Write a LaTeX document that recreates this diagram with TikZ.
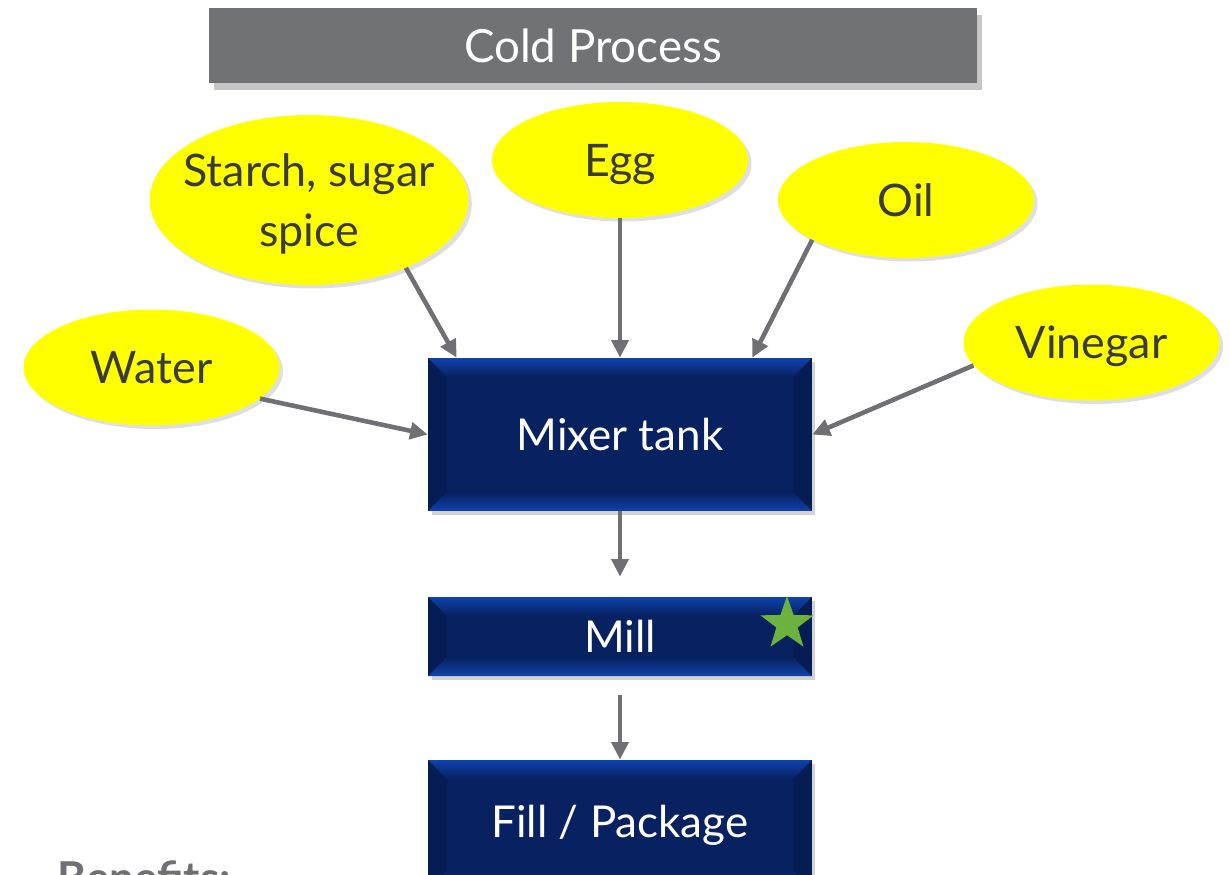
\documentclass[tikz,border=0pt]{standalone}
\usepackage{fontspec}
\setmainfont{Lato}
\usepackage{xcolor}
\usetikzlibrary{positioning}
\usetikzlibrary{calc}
\usetikzlibrary{arrows.meta, shapes.geometric, shadows}
\definecolor{ingyellow}{RGB}{255,255,0}
\definecolor{inktext}{RGB}{59,59,61}
\definecolor{arrowgray}{RGB}{112,112,116}
\definecolor{titlegray}{RGB}{113,114,118}
\definecolor{boxmid}{RGB}{8,33,96}
\definecolor{bevhi}{RGB}{14,66,172}
\definecolor{boxside}{RGB}{6,28,84}
\definecolor{stargreen}{RGB}{108,178,62}
\tikzstyle{ingredient} = [ellipse, fill=ingyellow, text=inktext, inner sep=0pt, text depth=0pt, minimum width=5.12cm, minimum height=2.32cm, font=\fontsize{25.5}{34}\selectfont, drop shadow={shadow xshift=2pt, shadow yshift=-2pt, opacity=0.25}]
\tikzstyle{stage} = [rectangle, fill=boxmid, text=white, inner sep=0pt, minimum width=7.68cm, font=\fontsize{25}{30}\selectfont, drop shadow={shadow xshift=2pt, shadow yshift=-2pt, opacity=0.35},
  path picture={
    \coordinate (pa) at (path picture bounding box.north west);
    \coordinate (pb) at (path picture bounding box.north east);
    \coordinate (pc) at (path picture bounding box.south east);
    \coordinate (pd) at (path picture bounding box.south west);
    \fill[boxside] (pa) -- ($(pa)+(0.38cm,-0.38cm)$) -- ($(pd)+(0.38cm,0.38cm)$) -- (pd) -- cycle;
    \fill[boxside] (pb) -- ($(pb)+(-0.38cm,-0.38cm)$) -- ($(pc)+(-0.38cm,0.38cm)$) -- (pc) -- cycle;
    \shade[top color=bevhi, bottom color=boxmid] (pa) -- (pb) -- ($(pb)+(-0.38cm,-0.38cm)$) -- ($(pa)+(0.38cm,-0.38cm)$) -- cycle;
    \shade[top color=boxmid, bottom color=bevhi] (pd) -- (pc) -- ($(pc)+(-0.38cm,0.38cm)$) -- ($(pd)+(0.38cm,0.38cm)$) -- cycle;
  }]
\tikzstyle{heading} = [rectangle, fill=titlegray, text=white, inner sep=0pt, minimum width=15.36cm, minimum height=1.5cm, font=\fontsize{26}{30}\selectfont, drop shadow={shadow xshift=3pt, shadow yshift=-4pt, opacity=0.45}]
\tikzstyle{flow} = [arrowgray, line width=2.6pt, -{Triangle[length=10pt,width=9.5pt]}]

\begin{document}
\begin{tikzpicture}[x=0.02cm,y=-0.02cm]
      \useasboundingbox (0,0) rectangle (1230,875);
      %\draw[help lines] (0,0) grid[step=50] (1230,875);
      \node[heading] (title) at (593,45.5) {Cold Process};
      \node[ingredient] (water) at (151.5,367.5) {Water};
      \node[ingredient, minimum width=6.24cm, minimum height=3.4cm, inner xsep=-0.26cm, align=center] (starch) at (309,200) {Starch, sugar\\spice};
      \node[ingredient] (egg) at (620,160) {Egg};
      \node[ingredient] (oil) at (906,200) {Oil};
      \node[ingredient] (vinegar) at (1091.5,342.5) {Vinegar};
      \node[stage, minimum height=3.06cm] (mixer) at (620,434.5) {Mixer tank};
      \node[stage, minimum height=1.58cm] (mill) at (620,636.5) {Mill};
      \node[stage, minimum height=2.6cm] (package) at (620,825) {Fill / Package};
      \node[star, star points=5, star point ratio=2.5, fill=stargreen, inner sep=0pt, minimum size=1.12cm] (millstar) at (787,624) {};
      \node[anchor=base west, text=arrowgray, font=\bfseries\fontsize{25}{30}\selectfont, inner sep=0pt] (benefits) at (57,893) {Benefits:};
      \draw[flow] (starch.-35) -- ($(mixer.north west)+(29,0)$);
      \draw[flow] (egg) -- (mixer);
      \draw[flow] (oil.203) -- ($(mixer.north east)+(-60,0)$);
      \draw[flow] (water.-16) -- (mixer.west);
      \draw[flow] (vinegar.191) -- (mixer.east);
      \draw[flow, shorten >=0.4cm] (mixer) -- (mill);
      \draw[flow, shorten <=0.38cm] (mill) -- (package);
\end{tikzpicture}
\end{document}
